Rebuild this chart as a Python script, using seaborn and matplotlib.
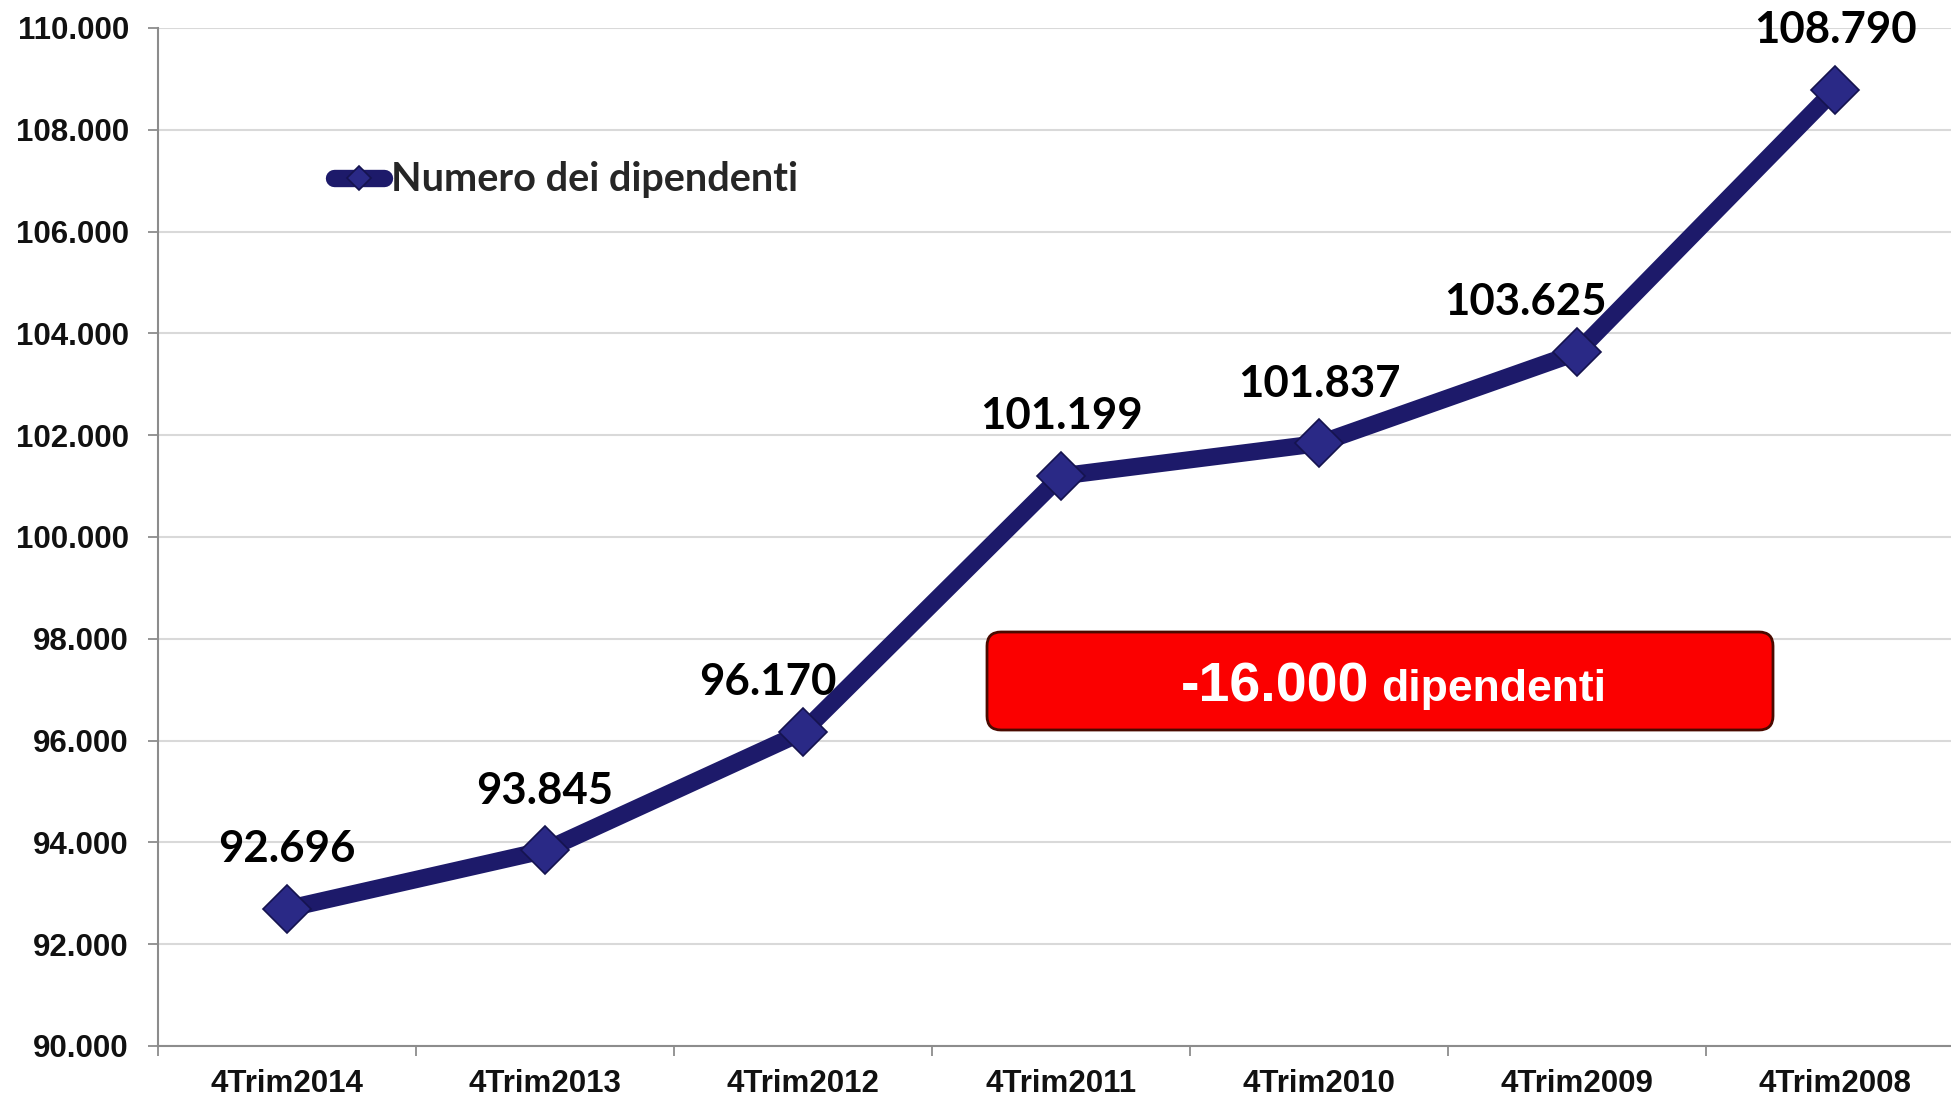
import matplotlib
matplotlib.use("Agg")
import matplotlib.pyplot as plt
import seaborn as sns
import pandas as pd
from matplotlib.ticker import FuncFormatter, FixedLocator
from matplotlib.patches import FancyBboxPatch
from matplotlib.transforms import IdentityTransform

# ---- data ----
categories = ["4Trim2014", "4Trim2013", "4Trim2012", "4Trim2011",
              "4Trim2010", "4Trim2009", "4Trim2008"]
dipendenti = [92.696, 93.845, 96.170, 101.199, 101.837, 103.625, 108.790]
value_labels = ["92.696", "93.845", "96.170", "101.199", "101.837", "103.625", "108.790"]
series_name = "Numero dei dipendenti"
callout_number = "-16.000"
callout_word = "dipendenti"

sns.set_style("white")
plt.rcParams["font.family"] = ["Liberation Sans", "DejaVu Sans"]

W, H = 1951, 1098
fig = plt.figure(figsize=(W / 100, H / 100), dpi=100)
ax = fig.add_axes([158 / W, 1 - 1046 / H, (1964 - 158) / W, (1046 - 28) / H])

df = pd.DataFrame({"trim": categories, "val": dipendenti})
navy = "#1d1a6a"
sns.lineplot(data=df, x="trim", y="val", sort=False, ax=ax, color=navy,
             linewidth=12.5, marker="D", markersize=24,
             markerfacecolor="#2a2986", markeredgecolor="#15134f",
             markeredgewidth=1.2, solid_capstyle="round",
             label=series_name, zorder=5)

ax.set_xlim(-0.5, len(categories) - 0.5)
ax.set_ylim(90, 110)
ax.set_xlabel("")
ax.set_ylabel("")

# y axis
ax.yaxis.set_major_locator(FixedLocator([90 + 2 * i for i in range(11)]))
ax.yaxis.set_major_formatter(FuncFormatter(lambda v, p: f"{v:.3f}"))
ax.grid(axis="y", color="#d9d9d9", linewidth=1.5, zorder=0)
ax.grid(axis="x", visible=False)
ax.tick_params(axis="y", which="major", length=7, width=1.3, color="#8c8c8c",
               pad=14, labelsize=22.5, labelcolor="#111111", left=True)
for t in ax.get_yticklabels():
    t.set_fontweight("bold")

# x axis: labels at centres, ticks at boundaries
ax.set_xticks(range(len(categories)))
ax.set_xticklabels(categories, fontweight="bold", fontsize=22.5, color="#111111")
ax.set_xticks([i - 0.5 for i in range(len(categories) + 1)], minor=True)
ax.tick_params(axis="x", which="major", length=0, pad=16.5)
ax.tick_params(axis="x", which="minor", length=7, width=1.3, color="#8c8c8c",
               bottom=True)

for s in ["top", "right"]:
    ax.spines[s].set_visible(False)
for s in ["left", "bottom"]:
    ax.spines[s].set_color("#8c8c8c")
    ax.spines[s].set_linewidth(1.5)

# data labels
offsets = [(0, 43), (0, 43), (-25, 36), (0, 43), (0, 43), (-37, 36), (0, 43)]
for i, (v, lab) in enumerate(zip(dipendenti, value_labels)):
    ax.annotate(lab, (i, v), xytext=offsets[i], textcoords="offset points",
                ha="center", va="center", fontsize=31.5, fontweight="bold",
                family=["Lato", "DejaVu Sans"], color="#000000", zorder=6)

# legend
leg = ax.legend(loc="center left", bbox_to_anchor=(334 / W, 1 - 180 / H),
                bbox_transform=fig.transFigure, frameon=False, borderpad=0,
                borderaxespad=0, handlelength=1.26, handletextpad=0.18,
                markerscale=0.52,
                prop={"family": ["Lato", "DejaVu Sans"], "weight": "bold", "size": 28.5})

# red callout box
box = FancyBboxPatch((987, H - 730), 1773 - 987, 730 - 632,
                     boxstyle="round,pad=0,rounding_size=14",
                     transform=IdentityTransform(), facecolor="#fb0000",
                     edgecolor="#4a0a00", linewidth=2, zorder=10)
fig.patches.append(box)
fig.text(1369 / W, 1 - 701 / H, callout_number, ha="right", va="baseline",
         fontsize=40, fontweight="bold", color="white", zorder=11)
fig.text(1381 / W, 1 - 701 / H, callout_word, ha="left", va="baseline",
         fontsize=32, fontweight="bold", color="white", zorder=11)

fig.savefig("out.png", dpi=100)
